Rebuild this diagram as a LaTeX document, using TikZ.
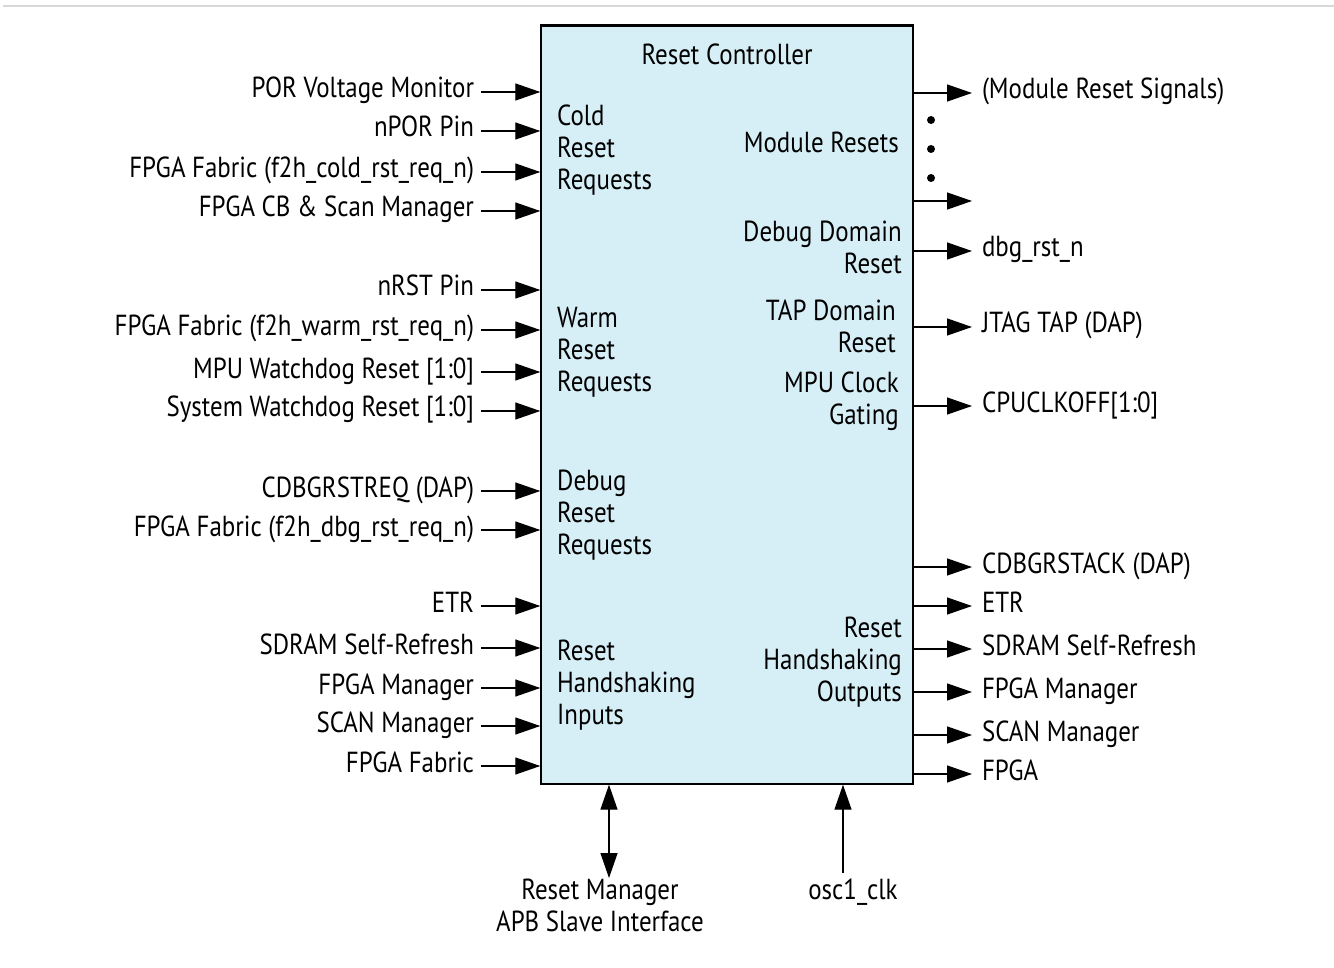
\documentclass[tikz,border=0pt]{standalone}
\usepackage{fontspec}
\setmainfont[FakeStretch=0.86]{PT Sans}
\usetikzlibrary{arrows.meta,calc}
\definecolor{boxfill}{RGB}{214,238,245}
\definecolor{topline}{RGB}{216,216,216}
\begin{document}
\begin{tikzpicture}[x=1pt,y=-1pt,
  txt/.style={font=\fontsize{29}{32}\selectfont, inner sep=0pt},
  lbl/.style={txt, text height=20pt, text depth=8pt},
  inl/.style={lbl, anchor=east, outer xsep=7pt},
  outl/.style={lbl, anchor=west, outer xsep=10pt},
  sig/.style={line width=1.3pt, -{Triangle[length=25pt,width=17pt]}},
  dsig/.style={line width=1.3pt, {Triangle[length=25pt,width=17pt]}-{Triangle[length=25pt,width=17pt]}},
  ctrl/.style={draw, line width=1.4pt, fill=boxfill, inner sep=0pt, minimum width=372pt, minimum height=758pt},
  inlab/.style={txt, align=left, anchor=north west},
  outlab/.style={txt, align=right, anchor=north east},
  dot/.style={circle, fill=black, inner sep=0pt, minimum size=8pt}
]
\useasboundingbox (0,0) rectangle (1334,968);
\draw[topline, line width=2pt] (3,6) -- (1334,6);

\node[ctrl] (box) at (727,405) {};
\draw[line width=2pt] (box.north west) -- (box.north east);
\node[txt, anchor=north] (title) at (727,44) {Reset Controller};

% inner labels
\node[inlab] (cold) at (557,105) {Cold\\Reset\\Requests};
\node[inlab] (warm) at (557,307) {Warm\\Reset\\Requests};
\node[inlab] (dbg) at (557,470) {Debug\\Reset\\Requests};
\node[inlab] (hsi) at (557,640) {Reset\\Handshaking\\Inputs};
\node[outlab] (modr) at (899,132) {Module Resets};
\node[outlab] (ddr) at (902,221) {Debug Domain\\Reset};
\node[outlab] (tapr) at (896,300) {TAP Domain\\Reset};
\node[outlab] (mpug) at (899,372) {MPU Clock\\Gating};
\node[outlab] (hso) at (902,617) {Reset\\Handshaking\\Outputs};

% inputs
\foreach \n/\y/\t in {i1/92/POR Voltage Monitor, i2/131/nPOR Pin,
  i3/172/FPGA Fabric (f2h\_cold\_rst\_req\_n), i4/211/FPGA CB \& Scan Manager,
  i5/290/nRST Pin, i6/330/FPGA Fabric (f2h\_warm\_rst\_req\_n),
  i7/372/MPU Watchdog Reset [1:0], i8/411/System Watchdog Reset [1:0],
  i9/491/CDBGRSTREQ (DAP), i10/530/FPGA Fabric (f2h\_dbg\_rst\_req\_n),
  i11/606/ETR, i12/648/SDRAM Self-Refresh, i13/688/FPGA Manager,
  i14/726/SCAN Manager, i15/766/FPGA Fabric}{
  \node[inl] (\n) at (481,\y) {\t};
  \draw[sig] (\n) -- (\n -| box.west);
}

% outputs
\foreach \n/\y/\t in {o1/93/(Module Reset Signals), o3/251/dbg\_rst\_n,
  o4/327/JTAG TAP (DAP), o5/406/CPUCLKOFF[1:0], o6/567/CDBGRSTACK (DAP),
  o7/606/ETR, o8/649/SDRAM Self-Refresh, o9/692/FPGA Manager,
  o10/735/SCAN Manager, o11/774/FPGA}{
  \node[outl] (\n) at (972,\y) {\t};
  \draw[sig] (\n -| box.east) -- (\n);
}
\coordinate (o2) at (972,201);
\draw[sig] (o2 -| box.east) -- (o2);
\node[dot] (d1) at (931,120) {};
\node[dot] (d2) at (931,149) {};
\node[dot] (d3) at (931,178) {};

% bottom
\node[txt, align=center, anchor=north] (apb) at (600,879) {Reset Manager\\APB Slave Interface};
\node[txt, anchor=north] (osc) at (853,879) {osc1\_clk};
\coordinate (apbx) at (609,878);
\coordinate (oscx) at (843,873);
\draw[dsig] (apbx) -- (apbx |- box.south);
\draw[sig] (oscx) -- (oscx |- box.south);
\end{tikzpicture}
\end{document}
